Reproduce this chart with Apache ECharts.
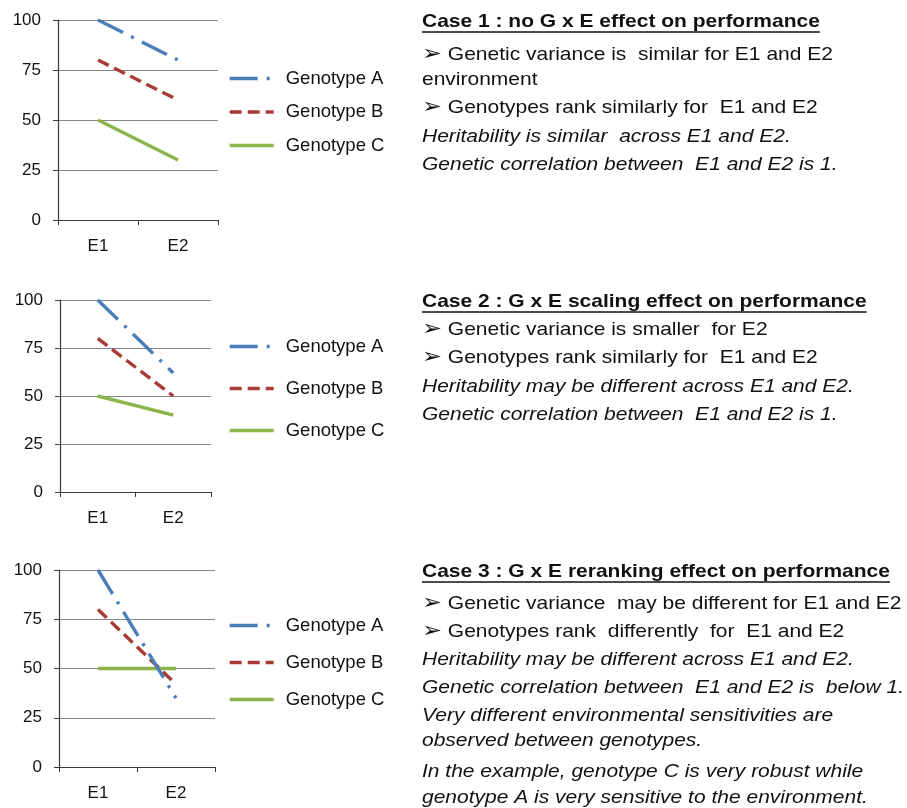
<!DOCTYPE html>
<html>
<head>
<meta charset="utf-8">
<script src="https://cdn.jsdelivr.net/npm/echarts@6/dist/echarts.min.js"></script>
<style>
html,body{margin:0;padding:0;background:#fff;}
#chart{width:907px;height:808px;}
</style>
</head>
<body>
<div id="chart"></div>
<script>
// ---- data ----
var categories = ['E1', 'E2'];
var yTickValues = [0, 25, 50, 75, 100];
var genotypeNames = ['Genotype A', 'Genotype B', 'Genotype C'];

var case1A = [100, 80];
var case1B = [80, 60];
var case1C = [50, 30];

var case2A = [100, 62];
var case2B = [80, 50];
var case2C = [50, 40];

var case3A = [100, 35];
var case3B = [80, 42];
var case3C = [50, 50];

var case1Text = [
  'Case 1 : no G x E effect on performance',
  '\u27A2 Genetic variance is  similar for E1 and E2',
  'environment',
  '\u27A2 Genotypes rank similarly for  E1 and E2',
  'Heritability is similar  across E1 and E2.',
  'Genetic correlation between  E1 and E2 is 1.'
];
var case2Text = [
  'Case 2 : G x E scaling effect on performance',
  '\u27A2 Genetic variance is smaller  for E2',
  '\u27A2 Genotypes rank similarly for  E1 and E2',
  'Heritability may be different across E1 and E2.',
  'Genetic correlation between  E1 and E2 is 1.'
];
var case3Text = [
  'Case 3 : G x E reranking effect on performance',
  '\u27A2 Genetic variance  may be different for E1 and E2',
  '\u27A2 Genotypes rank  differently  for  E1 and E2',
  'Heritability may be different across E1 and E2.',
  'Genetic correlation between  E1 and E2 is  below 1.',
  'Very different environmental sensitivities are',
  'observed between genotypes.',
  'In the example, genotype C is very robust while',
  'genotype A is very sensitive to the environment.'
];

// ---- styling / layout ----
var FONT = '"Liberation Sans", Arial, "DejaVu Sans", sans-serif';
var colors = ['#4A7EBB', '#A93A36', '#8DB44A'];
var dashes = [[28, 9, 3, 9], [12, 6], 'solid'];

var grids = [
  {left: 58, top: 20, width: 160, height: 200},
  {left: 60, top: 300, width: 151, height: 192},
  {left: 59, top: 570, width: 156, height: 197}
];
var legendPos = [
  {left: 228, top: 69, gap: 14.5},
  {left: 228, top: 337, gap: 23},
  {left: 228, top: 616, gap: 18}
];
var caseData = [[case1A, case1B, case1C], [case2A, case2B, case2C], [case3A, case3B, case3C]];

var xAxes = [], yAxes = [], series = [], legends = [];
for (var g = 0; g < 3; g++) {
  xAxes.push({
    type: 'category', gridIndex: g, data: categories, boundaryGap: true,
    axisLine: {lineStyle: {color: '#3a3a3a', width: 1.2}},
    axisTick: {show: true, length: 5, lineStyle: {color: '#3a3a3a'}},
    axisLabel: {fontFamily: FONT, fontSize: 17, color: '#111', margin: 18},
    splitLine: {show: false}
  });
  yAxes.push({
    type: 'value', gridIndex: g, min: yTickValues[0], max: yTickValues[yTickValues.length - 1],
    interval: yTickValues[1] - yTickValues[0],
    axisLine: {show: true, lineStyle: {color: '#3a3a3a', width: 1.2}},
    axisTick: {show: true, length: 5, lineStyle: {color: '#3a3a3a'}},
    axisLabel: {fontFamily: FONT, fontSize: 17, color: '#111', margin: 17},
    splitLine: {show: true, lineStyle: {color: '#868686', width: 1}}
  });
  var suffix = new Array(g + 1).join('\u200b');
  var names = [];
  for (var s = 0; s < 3; s++) {
    var nm = genotypeNames[s] + suffix;
    names.push(nm);
    series.push({
      name: nm, type: 'line', xAxisIndex: g, yAxisIndex: g,
      data: caseData[g][s], symbol: 'none', showSymbol: false,
      lineStyle: {color: colors[s], width: 3.4, type: dashes[s]},
      itemStyle: {color: colors[s]},
      z: 3 - s
    });
  }
  legends.push({
    orient: 'vertical', left: legendPos[g].left, top: legendPos[g].top, padding: 0,
    itemWidth: 44, itemHeight: 14, itemGap: legendPos[g].gap,
    itemStyle: {color: 'rgba(0,0,0,0)', borderWidth: 0, opacity: 0},
    lineStyle: {width: 3.4},
    data: names, selectedMode: false,
    formatter: function (n) { return n.replace(/\u200b/g, ''); },
    textStyle: {fontFamily: FONT, fontSize: 18.5, color: '#111', padding: [0, 0, 0, 7]}
  });
}

// ---- text blocks ----
var canvas = document.createElement('canvas');
var ctx = canvas.getContext('2d');
function textWidth(t, font) { ctx.font = font; return ctx.measureText(t).width; }

var graphics = [];
var TX = 422;
var SX = 1.135;
var blocks = [
  {lines: case1Text, ys: [22, 55, 80, 108, 137, 165], italicFrom: 4},
  {lines: case2Text, ys: [302, 330, 358, 387, 415], italicFrom: 3},
  {lines: case3Text, ys: [572, 604, 632, 660, 688, 716, 741, 772, 798], italicFrom: 3}
];
var TITLE_SIZE = 18.5, BODY_SIZE = 18.5;
blocks.forEach(function (b) {
  b.lines.forEach(function (line, i) {
    var isTitle = i === 0;
    var italic = i >= b.italicFrom;
    var font = (italic ? 'italic ' : '') + (isTitle ? 'bold ' : '') + (isTitle ? TITLE_SIZE : BODY_SIZE) + 'px ' + FONT;
    var shown = line.charAt(0) === '\u27A2' ? '{arr|\u27A2}' + line.slice(1) : line;
    graphics.push({
      type: 'text', x: TX, y: b.ys[i], scaleX: SX, originX: 0, originY: 0,
      style: {
        text: shown, fill: '#111', x: 0, y: 0, align: 'left', verticalAlign: 'middle',
        font: font,
        rich: {arr: {fontFamily: '"DejaVu Sans", sans-serif', fontSize: 21, fontWeight: 'bold', fill: '#111'}}
      }
    });
    if (isTitle) {
      var w = textWidth(line, font) * SX;
      graphics.push({
        type: 'line', shape: {x1: TX, y1: b.ys[i] + 10, x2: TX + w, y2: b.ys[i] + 10},
        style: {stroke: '#111', lineWidth: 1.5}
      });
    }
  });
});

var chart = echarts.init(document.getElementById('chart'), null, {renderer: 'canvas'});
chart.setOption({
  backgroundColor: '#ffffff',
  animation: false,
  grid: grids,
  xAxis: xAxes,
  yAxis: yAxes,
  legend: legends,
  series: series,
  graphic: graphics
});
</script>
</body>
</html>
